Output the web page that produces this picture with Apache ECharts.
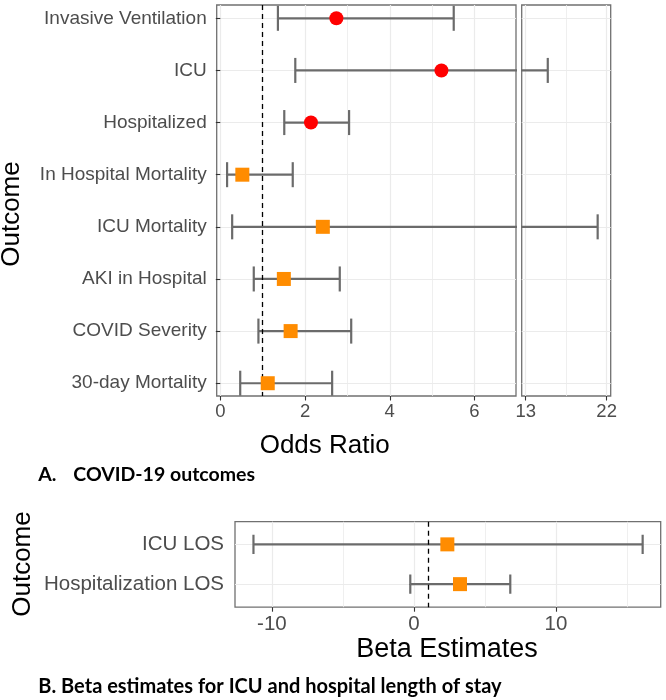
<!DOCTYPE html>
<html>
<head>
<meta charset="utf-8">
<script src="https://cdn.jsdelivr.net/npm/echarts@6/dist/echarts.min.js"></script>
<style>
html,body{margin:0;padding:0;background:#fff;}
#chart{width:666px;height:700px;}
</style>
</head>
<body>
<div id="chart"></div>
<script>
// ---------- Data ----------
const orCategories = ['Invasive Ventilation','ICU','Hospitalized','In Hospital Mortality','ICU Mortality','AKI in Hospital','COVID Severity','30-day Mortality'];
const orEstimate = [2.74, 5.22, 2.14, 0.52, 2.42, 1.50, 1.66, 1.12];
const orLower    = [1.36, 1.77, 1.51, 0.16, 0.28, 0.79, 0.90, 0.47];
const orUpper    = [5.51, 15.45, 3.04, 1.71, 21.0, 2.82, 3.09, 2.64];
const orGroup    = [1, 1, 1, 2, 2, 2, 2, 2];
const orTicksLow = [0, 2, 4, 6];
const orMinorLow = [1, 3, 5];
const orTicksHigh = [13, 22];
const orMinorHigh = [17.5];

const losCategories = ['ICU LOS','Hospitalization LOS'];
const losEstimate = [2.35, 3.24];
const losLower    = [-11.3, -0.26];
const losUpper    = [16.1, 6.78];
const losGroup    = [2, 2];
const losTicks = [-10, 0, 10];
const losMinor = [-5, 5, 15];

const orReference = 1;
const losReference = 1;

// ---------- Styles ----------
const FONT = 'Liberation Sans';
const GRID_COL = '#EBEBEB';
const BAR_COL = '#6b6b6b';
const groupStyle = {1: {symbol: 'circle', color: '#FF0000'}, 2: {symbol: 'rect', color: '#FF8C00'}};

function errorbarRender(params, api) {
  const y = api.value(2);
  const p1 = api.coord([api.value(0), y]);
  const p2 = api.coord([api.value(1), y]);
  const h = api.size([0, 0.24])[1];
  const style = {stroke: BAR_COL, lineWidth: 2.2};
  return {type: 'group', children: [
    {type: 'line', shape: {x1: p1[0], y1: p1[1], x2: p2[0], y2: p2[1]}, style: style},
    {type: 'line', shape: {x1: p1[0], y1: p1[1] - h, x2: p1[0], y2: p1[1] + h}, style: style},
    {type: 'line', shape: {x1: p2[0], y1: p2[1] - h, x2: p2[0], y2: p2[1] + h}, style: style}
  ]};
}

function barData(lo, hi) { return lo.map((v, i) => [v, hi[i], i + 1]); }
function pointData(est, grp, g) {
  const out = [];
  est.forEach((v, i) => { if (grp[i] === g) out.push([v, i + 1]); });
  return out;
}

function valueX(gridIndex, min, max, ticks, fontSize, margin) {
  return {
    type: 'value', gridIndex: gridIndex, min: min, max: max, position: 'bottom',
    axisLine: {show: false},
    axisTick: {show: true, customValues: ticks, length: 4.5, lineStyle: {color: '#333', width: 1.1}},
    axisLabel: {customValues: ticks, color: '#4D4D4D', fontFamily: FONT, fontSize: fontSize, margin: margin,
                formatter: v => String(v)},
    splitLine: {show: true, lineStyle: {color: GRID_COL, width: 1.2}}
  };
}
function minorX(gridIndex, min, max, ticks) {
  return {
    type: 'value', gridIndex: gridIndex, min: min, max: max, position: 'bottom',
    axisLine: {show: false},
    axisTick: {show: false, customValues: ticks},
    axisLabel: {show: false, customValues: ticks},
    splitLine: {show: true, lineStyle: {color: GRID_COL, width: 0.8}}
  };
}
function catY(gridIndex, min, max, cats, showLabels, fontSize, margin) {
  const vals = cats.map((_, i) => i + 1);
  return {
    type: 'value', gridIndex: gridIndex, min: min, max: max, inverse: true,
    axisLine: {show: false},
    axisTick: {show: showLabels, customValues: vals, length: 4.5, lineStyle: {color: '#333', width: 1.1}},
    axisLabel: {show: showLabels, customValues: vals, color: '#4D4D4D', fontFamily: FONT, fontSize: fontSize, margin: margin,
                formatter: v => cats[Math.round(v) - 1]},
    splitLine: {show: true, lineStyle: {color: GRID_COL, width: 1.2}}
  };
}

const gridBase = {show: true, borderColor: '#707070', borderWidth: 1.3, backgroundColor: 'transparent', containLabel: false, outerBoundsMode: 'none'};

const markerSeries = [];
[1, 2].forEach(g => {
  markerSeries.push({
    type: 'scatter', xAxisIndex: 0, yAxisIndex: 0, z: 5,
    symbol: groupStyle[g].symbol, symbolSize: 14,
    itemStyle: {color: groupStyle[g].color, opacity: 1},
    data: pointData(orEstimate, orGroup, g),
    markLine: g === 1 ? {
      silent: true, symbol: ['none', 'none'], label: {show: false},
      lineStyle: {type: [5, 4], color: '#000', width: 1.3},
      data: [{xAxis: orReference}]
    } : undefined
  });
});
[1, 2].forEach(g => {
  const d = pointData(losEstimate, losGroup, g);
  if (!d.length) return;
  markerSeries.push({
    type: 'scatter', xAxisIndex: 4, yAxisIndex: 2, z: 5,
    symbol: groupStyle[g].symbol, symbolSize: 14,
    itemStyle: {color: groupStyle[g].color, opacity: 1},
    data: d,
    markLine: {
      silent: true, symbol: ['none', 'none'], label: {show: false},
      lineStyle: {type: [5, 4], color: '#000', width: 1.3},
      data: [{xAxis: losReference}]
    }
  });
});

const option = {
  animation: false,
  backgroundColor: '#fff',
  grid: [
    Object.assign({left: 216.7, top: 5, width: 299.3, height: 391}, gridBase),
    Object.assign({left: 521.7, top: 5, width: 89, height: 391}, gridBase),
    Object.assign({left: 235, top: 521.7, width: 425.7, height: 85.5}, gridBase)
  ],
  xAxis: [
    valueX(0, -0.085, 6.98, orTicksLow, 18.5, 6),
    minorX(0, -0.085, 6.98, orMinorLow),
    valueX(1, 12.55, 22.45, orTicksHigh, 18.5, 6),
    minorX(1, 12.55, 22.45, orMinorHigh),
    valueX(2, -12.6, 17.37, losTicks, 20.5, 7),
    minorX(2, -12.6, 17.37, losMinor)
  ],
  yAxis: [
    catY(0, 0.745, 8.245, orCategories, true, 19, 10),
    catY(1, 0.745, 8.245, orCategories, false, 19, 10),
    catY(2, 0.43, 2.58, losCategories, true, 20.5, 11)
  ],
  series: [
    {type: 'custom', xAxisIndex: 0, yAxisIndex: 0, clip: true, z: 3, renderItem: errorbarRender,
     encode: {x: [0, 1], y: 2}, data: barData(orLower, orUpper)},
    {type: 'custom', xAxisIndex: 2, yAxisIndex: 1, clip: true, z: 3, renderItem: errorbarRender,
     encode: {x: [0, 1], y: 2}, data: barData(orLower, orUpper)},
    {type: 'custom', xAxisIndex: 4, yAxisIndex: 2, clip: true, z: 3, renderItem: errorbarRender,
     encode: {x: [0, 1], y: 2}, data: barData(losLower, losUpper)}
  ].concat(markerSeries),
  graphic: [
    {type: 'text', x: 12, y: 214, rotation: Math.PI / 2,
     style: {text: 'Outcome', fontFamily: FONT, fontSize: 26, fill: '#000', align: 'center', verticalAlign: 'middle'}},
    {type: 'text', x: 324.7, y: 445.5,
     style: {text: 'Odds Ratio', fontFamily: FONT, fontSize: 26, fill: '#000', align: 'center', verticalAlign: 'middle'}},
    {type: 'text', x: 38.3, y: 474.5,
     style: {text: 'A.', fontFamily: 'Lato', fontWeight: 'bold', fontSize: 19.5, fill: '#000', align: 'left', verticalAlign: 'middle'}},
    {type: 'text', x: 73.3, y: 474.5,
     style: {text: 'COVID-19 outcomes', fontFamily: 'Lato', fontWeight: 'bold', fontSize: 19.5, fill: '#000', align: 'left', verticalAlign: 'middle'}},
    {type: 'text', x: 22.5, y: 564, rotation: Math.PI / 2,
     style: {text: 'Outcome', fontFamily: FONT, fontSize: 26, fill: '#000', align: 'center', verticalAlign: 'middle'}},
    {type: 'text', x: 447, y: 649.5,
     style: {text: 'Beta Estimates', fontFamily: FONT, fontSize: 27, fill: '#000', align: 'center', verticalAlign: 'middle'}},
    {type: 'text', x: 38.3, y: 686.5,
     style: {text: 'B. Beta estimates for ICU and hospital length of stay', fontFamily: 'Lato', fontWeight: 'bold', fontSize: 20, fill: '#000', align: 'left', verticalAlign: 'middle'}}
  ]
};

const chart = echarts.init(document.getElementById('chart'), null, {renderer: 'canvas'});
chart.setOption(option);
</script>
</body>
</html>
